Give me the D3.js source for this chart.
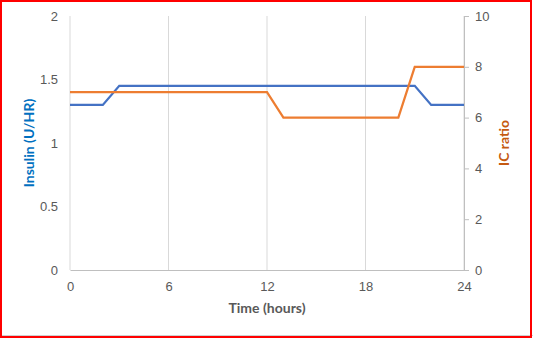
<!DOCTYPE html>
<html>
<head>
<meta charset="utf-8">
<script src="https://cdn.jsdelivr.net/npm/d3@7"></script>
<style>
  body { margin: 0; background: #fff; }
  svg { display: block; font-family: Lato, "Open Sans", sans-serif; }
  .tick text { fill: #595959; font-size: 13px; }
</style>
</head>
<body>
<svg id="drawing-area"></svg>
<script>
// hourly values
var hours = d3.range(0, 25);
var insulin = [1.3, 1.3, 1.3, 1.45, 1.45, 1.45, 1.45, 1.45, 1.45, 1.45, 1.45, 1.45, 1.45,
               1.45, 1.45, 1.45, 1.45, 1.45, 1.45, 1.45, 1.45, 1.45, 1.3, 1.3, 1.3];
var icRatio = [7, 7, 7, 7, 7, 7, 7, 7, 7, 7, 7, 7, 7,
               6, 6, 6, 6, 6, 6, 6, 6, 8, 8, 8, 8];
var xTicks = [0, 6, 12, 18, 24];
var leftTicks = [0, 0.5, 1, 1.5, 2];
var rightTicks = [0, 2, 4, 6, 8, 10];

var width = 533, height = 339;
var plotLeft = 70, plotRight = 464, plotTop = 16, plotBottom = 270;

var svg = d3.select("#drawing-area")
    .attr("width", width)
    .attr("height", height);

var xScale = d3.scaleLinear().domain([0, 24]).range([plotLeft, plotRight]);
var yLeft = d3.scaleLinear().domain([0, 2]).range([plotBottom, plotTop]);
var yRight = d3.scaleLinear().domain([0, 10]).range([plotBottom, plotTop]);

// vertical gridlines
svg.selectAll(".vgrid")
    .data(xTicks)
    .enter()
    .append("line")
    .attr("class", "vgrid")
    .attr("x1", function(d){ return xScale(d); })
    .attr("x2", function(d){ return xScale(d); })
    .attr("y1", plotTop)
    .attr("y2", plotBottom)
    .attr("stroke", "#d9d9d9")
    .attr("stroke-width", 1);

// x axis
var xAxis = d3.axisBottom(xScale).tickValues(xTicks).tickSize(0).tickPadding(12);
var gx = svg.append("g")
    .attr("transform", "translate(0," + plotBottom + ")")
    .call(xAxis);
gx.select(".domain").attr("stroke", "#bfbfbf");

// left axis
var gl = svg.append("g")
    .attr("transform", "translate(" + plotLeft + ",0)")
    .call(d3.axisLeft(yLeft).tickValues(leftTicks).tickSize(0).tickPadding(12)
        .tickFormat(d3.format("")));
gl.select(".domain").remove();

// right axis
var gr = svg.append("g")
    .attr("transform", "translate(" + plotRight + ",0)")
    .call(d3.axisRight(yRight).tickValues(rightTicks).tickSize(5).tickSizeOuter(0).tickPadding(6));
gr.select(".domain").attr("stroke", "#bfbfbf");
gr.selectAll(".tick line").attr("stroke", "#bfbfbf");

// lines
var insulinLine = d3.line()
    .x(function(d, i){ return xScale(hours[i]); })
    .y(function(d){ return yLeft(d); });
var icLine = d3.line()
    .x(function(d, i){ return xScale(hours[i]); })
    .y(function(d){ return yRight(d); });

svg.append("path")
    .attr("d", insulinLine(insulin))
    .attr("fill", "none")
    .attr("stroke", "#4472c4")
    .attr("stroke-width", 2.25);

svg.append("path")
    .attr("d", icLine(icRatio))
    .attr("fill", "none")
    .attr("stroke", "#ed7d31")
    .attr("stroke-width", 2.25);

// axis titles
svg.append("text")
    .attr("transform", "translate(34," + (plotTop + plotBottom) / 2 + ") rotate(-90)")
    .style("text-anchor", "middle")
    .style("font-weight", "bold")
    .style("font-size", "14px")
    .attr("fill", "#0070c0")
    .text("Insulin (U/HR)");

svg.append("text")
    .attr("transform", "translate(509," + (plotTop + plotBottom) / 2 + ") rotate(-90)")
    .style("text-anchor", "middle")
    .style("font-weight", "bold")
    .style("font-size", "14px")
    .attr("fill", "#c55a11")
    .text("IC ratio");

svg.append("text")
    .attr("x", (plotLeft + plotRight) / 2)
    .attr("y", 313)
    .style("text-anchor", "middle")
    .style("font-weight", "bold")
    .style("font-size", "14px")
    .attr("fill", "#595959")
    .text("Time (hours)");

// sheet line and red frame
svg.append("line")
    .attr("x1", 0).attr("x2", width)
    .attr("y1", 335.5).attr("y2", 335.5)
    .attr("stroke", "#d0d0d0");
svg.append("rect")
    .attr("x", 1).attr("y", 1)
    .attr("width", 530).attr("height", 336)
    .attr("fill", "none")
    .attr("stroke", "red")
    .attr("stroke-width", 2);
</script>
</body>
</html>
